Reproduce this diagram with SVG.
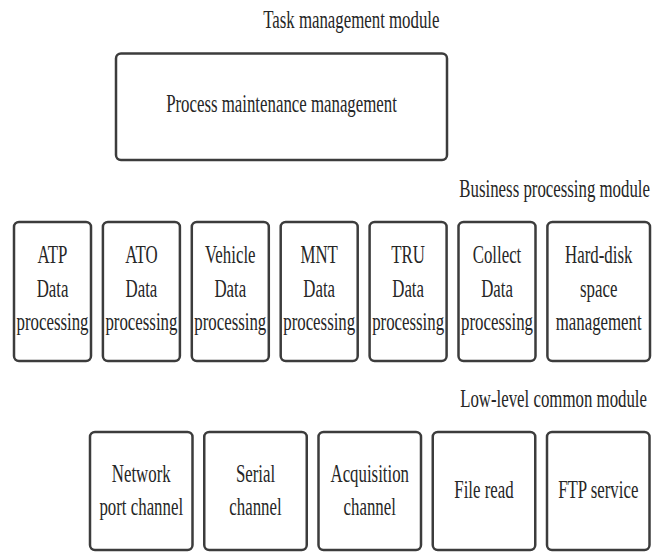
<svg xmlns="http://www.w3.org/2000/svg" width="664" height="552" viewBox="0 0 664 552">
<style>
.box{fill:#ffffff;stroke:#3c3c3c;stroke-width:2.5}
.t{font-family:"Liberation Serif","Times New Roman",serif;font-size:25.5px;fill:#262626;text-anchor:middle}
.lbl{font-family:"Liberation Serif","Times New Roman",serif;font-size:25.5px;fill:#262626;text-anchor:end}
</style>
<rect width="664" height="552" fill="#ffffff"/>
<g id="labels">
<text class="lbl" transform="translate(439.5,28.3) scale(0.66,1)">Task management module</text>
<text class="lbl" transform="translate(650,196.7) scale(0.66,1)">Business processing module</text>
<text class="lbl" transform="translate(647,406.7) scale(0.66,1)">Low-level common module</text>
</g>
<g id="process-maintenance">
<rect class="box" x="116" y="53.5" width="331" height="106.5" rx="5"/>
<text class="t" transform="translate(281.5,112) scale(0.66,1)">Process maintenance management</text>
</g>
<g id="atp">
<rect class="box" x="14" y="222" width="77" height="139" rx="5"/>
<text class="t" transform="translate(52.5,263.3) scale(0.66,1)">ATP</text>
<text class="t" transform="translate(52.5,296.7) scale(0.66,1)">Data</text>
<text class="t" transform="translate(52.5,330) scale(0.66,1)">processing</text>
</g>
<g id="ato">
<rect class="box" x="102.9" y="222" width="77" height="139" rx="5"/>
<text class="t" transform="translate(141.4,263.3) scale(0.66,1)">ATO</text>
<text class="t" transform="translate(141.4,296.7) scale(0.66,1)">Data</text>
<text class="t" transform="translate(141.4,330) scale(0.66,1)">processing</text>
</g>
<g id="vehicle">
<rect class="box" x="191.8" y="222" width="77" height="139" rx="5"/>
<text class="t" transform="translate(230.3,263.3) scale(0.66,1)">Vehicle</text>
<text class="t" transform="translate(230.3,296.7) scale(0.66,1)">Data</text>
<text class="t" transform="translate(230.3,330) scale(0.66,1)">processing</text>
</g>
<g id="mnt">
<rect class="box" x="280.7" y="222" width="77" height="139" rx="5"/>
<text class="t" transform="translate(319.2,263.3) scale(0.66,1)">MNT</text>
<text class="t" transform="translate(319.2,296.7) scale(0.66,1)">Data</text>
<text class="t" transform="translate(319.2,330) scale(0.66,1)">processing</text>
</g>
<g id="tru">
<rect class="box" x="369.6" y="222" width="77" height="139" rx="5"/>
<text class="t" transform="translate(408.1,263.3) scale(0.66,1)">TRU</text>
<text class="t" transform="translate(408.1,296.7) scale(0.66,1)">Data</text>
<text class="t" transform="translate(408.1,330) scale(0.66,1)">processing</text>
</g>
<g id="collect">
<rect class="box" x="458.5" y="222" width="77" height="139" rx="5"/>
<text class="t" transform="translate(497,263.3) scale(0.66,1)">Collect</text>
<text class="t" transform="translate(497,296.7) scale(0.66,1)">Data</text>
<text class="t" transform="translate(497,330) scale(0.66,1)">processing</text>
</g>
<g id="hard-disk">
<rect class="box" x="547.4" y="222" width="102.6" height="139" rx="5"/>
<text class="t" transform="translate(598.7,263.3) scale(0.66,1)">Hard-disk</text>
<text class="t" transform="translate(598.7,296.7) scale(0.66,1)">space</text>
<text class="t" transform="translate(598.7,330) scale(0.66,1)">management</text>
</g>
<g id="network-port">
<rect class="box" x="90" y="432" width="102.5" height="118" rx="5"/>
<text class="t" transform="translate(141.25,481.7) scale(0.66,1)">Network</text>
<text class="t" transform="translate(141.25,515) scale(0.66,1)">port channel</text>
</g>
<g id="serial">
<rect class="box" x="204.25" y="432" width="102.5" height="118" rx="5"/>
<text class="t" transform="translate(255.5,481.7) scale(0.66,1)">Serial</text>
<text class="t" transform="translate(255.5,515) scale(0.66,1)">channel</text>
</g>
<g id="acquisition">
<rect class="box" x="318.5" y="432" width="102.5" height="118" rx="5"/>
<text class="t" transform="translate(369.75,481.7) scale(0.66,1)">Acquisition</text>
<text class="t" transform="translate(369.75,515) scale(0.66,1)">channel</text>
</g>
<g id="file-read">
<rect class="box" x="432.75" y="432" width="102.5" height="118" rx="5"/>
<text class="t" transform="translate(484,498.3) scale(0.66,1)">File read</text>
</g>
<g id="ftp">
<rect class="box" x="547" y="432" width="102.5" height="118" rx="5"/>
<text class="t" transform="translate(598.25,498.3) scale(0.66,1)">FTP service</text>
</g>
<g id="connectors"></g>
</svg>
